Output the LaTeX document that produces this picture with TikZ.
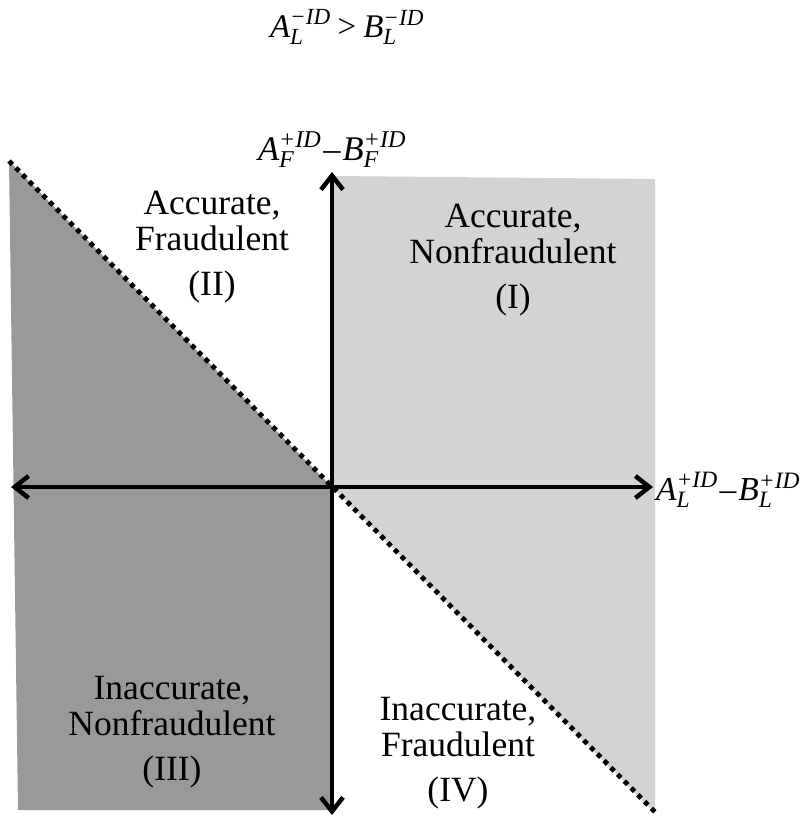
\documentclass[tikz,border=0pt]{standalone}
\usepackage{amsmath}
\usepackage{fontspec}
\setmainfont{Liberation Serif}
\usetikzlibrary{arrows.meta}
\definecolor{darkfill}{RGB}{153,153,153}
\definecolor{lightfill}{RGB}{211,211,211}
\newcommand\qty[3]{\textit{#1}^{\textit{#2}}_{\textit{#3}}}
\begin{document}
\begin{tikzpicture}[x=1pt,y=-1pt,
  axis/.style={line width=4.5pt,{Straight Barb[length=14pt,width=22pt]}-{Straight Barb[length=14pt,width=22pt]}},
  divider/.style={line width=4.8pt,dash pattern=on 4.8pt off 4.8pt},
  regionlabel/.style={align=center,font=\fontsize{35.5}{36.5}\selectfont,inner sep=0pt},
  mathlabel/.style={inner sep=0pt}]
\useasboundingbox (0,0) rectangle (806,817);
% key points
\coordinate (O) at (332,487);
\coordinate (L) at (11,487);
\coordinate (R) at (653,487);
\coordinate (T) at (332,172);
\coordinate (B) at (332,815);
\coordinate (D1) at (9,161);
\coordinate (D2) at (657,814);
% regions
\fill[darkfill] (D1) -- (O) -- (330,810) -- (18,810) -- cycle;
\fill[lightfill] (334,176) -- (655,179) -- (655,813) -- (O) -- cycle;
% divider
\draw[divider] (D1) -- (D2);
% axes
\draw[axis] (L) -- (R);
\draw[axis] (B) -- (T);
% labels
\node[mathlabel,font=\fontsize{33}{38}\selectfont] (title) at (347,27) {$\qty{A}{−ID}{L}\text{\kern7pt>\kern7pt}\qty{B}{−ID}{L}$};
\node[mathlabel,anchor=south,font=\fontsize{34.5}{38}\selectfont] (ylab) at (332,168) {$\qty{A}{+ID}{F}\text{\kern2pt\textendash\kern2pt}\qty{B}{+ID}{F}$};
\node[mathlabel,anchor=west,font=\fontsize{33.5}{38}\selectfont] (xlab) at (656,490) {$\qty{A}{+ID}{L}\text{\kern2pt\textendash\kern2pt}\qty{B}{+ID}{L}$};
\node[regionlabel] (q2) at (212,247) {Accurate,\\Fraudulent\\[8pt](II)};
\node[regionlabel] (q1) at (513,260) {Accurate,\\Nonfraudulent\\[8pt](I)};
\node[regionlabel] (q3) at (172,732) {Inaccurate,\\Nonfraudulent\\[8pt](III)};
\node[regionlabel] (q4) at (458,753) {Inaccurate,\\Fraudulent\\[8pt](IV)};
\end{tikzpicture}
\end{document}
